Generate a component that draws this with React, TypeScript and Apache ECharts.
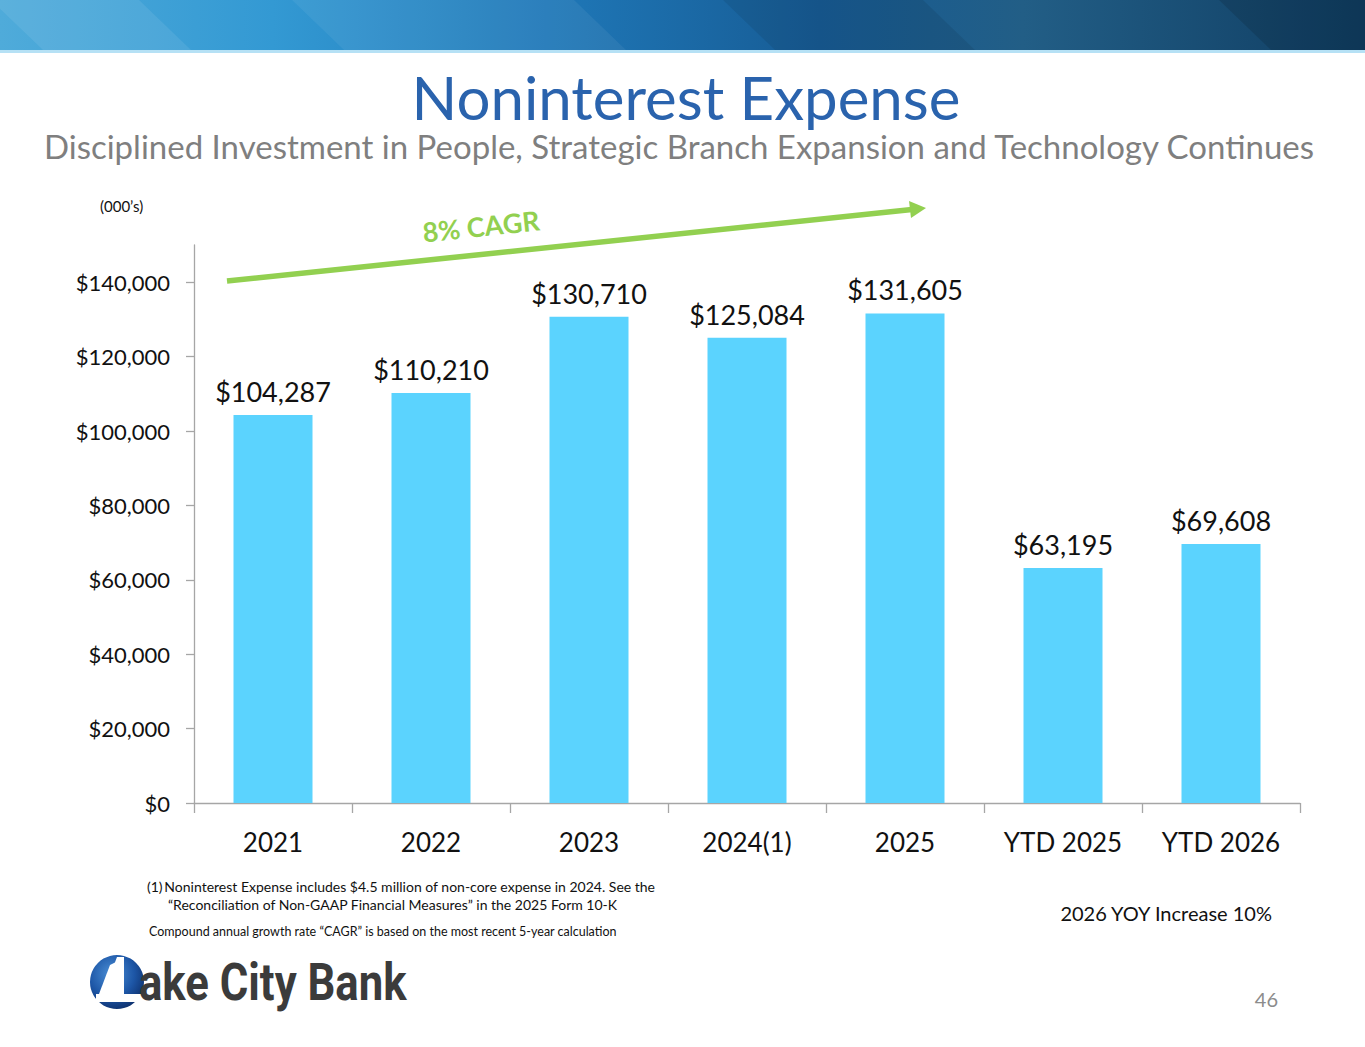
import React, { useEffect, useRef } from "react";
import * as echarts from "echarts";

const categories = ["2021", "2022", "2023", "2024(1)", "2025", "YTD 2025", "YTD 2026"];
const expense = [104287, 110210, 130710, 125084, 131605, 63195, 69608];
const yTicks = [0, 20000, 40000, 60000, 80000, 100000, 120000, 140000];
const yMax = 150000;

const FONT = "Lato, 'Open Sans', sans-serif";
const money = (v: number) => "$" + Number(v).toLocaleString("en-US");

export default function App() {
  const ref = useRef<HTMLDivElement>(null);
  useEffect(() => {
    document.body.style.margin = "0";
    const chart = echarts.init(ref.current!, null, { renderer: "svg" });

    const stripes: any[] = [];
    const bands = [
      [17, 165, 0.08],
      [318, 600, 0.06],
      [749, 949, -0.08],
      [1245, 1400, -0.12],
    ];
    bands.forEach(([a, b, alpha]) => {
      stripes.push({
        type: "polygon",
        shape: { points: [[a - 26, 0], [b - 26, 0], [b + 26, 50], [a + 26, 50]] },
        style: { fill: alpha > 0 ? `rgba(255,255,255,${alpha})` : `rgba(0,0,0,${-alpha})` },
        silent: true,
      });
    });

    chart.setOption({
      animation: false,
      backgroundColor: "#ffffff",
      grid: { left: 194, right: 65, top: 245, bottom: 244, containLabel: false },
      xAxis: {
        type: "category",
        data: categories,
        axisLine: { lineStyle: { color: "#a6a6a6", width: 1.3 } },
        axisTick: { show: true, length: 10, lineStyle: { color: "#a6a6a6", width: 1.3 } },
        axisLabel: { fontSize: 26, color: "#111111", margin: 26, fontFamily: FONT },
      },
      yAxis: {
        type: "value",
        min: 0,
        max: yMax,
        interval: 20000,
        splitLine: { show: false },
        axisLine: { show: true, lineStyle: { color: "#a6a6a6", width: 1.3 } },
        axisTick: { show: true, length: 8, customValues: yTicks, lineStyle: { color: "#a6a6a6", width: 1.3 } },
        axisLabel: {
          fontSize: 22,
          color: "#111111",
          margin: 24,
          fontFamily: FONT,
          customValues: yTicks,
          formatter: (v: number) => money(v),
        },
      },
      series: [
        {
          type: "bar",
          data: expense,
          barWidth: "50%",
          itemStyle: { color: "#5bd3fe" },
          label: {
            show: true,
            position: "top",
            distance: 10,
            fontSize: 27,
            color: "#111111",
            fontFamily: FONT,
            formatter: (p: any) => money(p.value),
          },
        },
      ],
      graphic: [
        // header banner
        {
          type: "rect",
          shape: { x: 0, y: 0, width: 1365, height: 50 },
          style: {
            fill: new echarts.graphic.LinearGradient(0, 0, 1, 0, [
              { offset: 0, color: "#4fabda" },
              { offset: 0.2, color: "#3399d3" },
              { offset: 0.4, color: "#1f78b8" },
              { offset: 0.6, color: "#175c95" },
              { offset: 0.75, color: "#225e86" },
              { offset: 1, color: "#103e63" },
            ]),
          },
          silent: true,
        },
        ...stripes,
        { type: "rect", shape: { x: 0, y: 50, width: 1365, height: 3 }, style: { fill: "#b6e1f5" }, silent: true },
        // title
        {
          type: "text",
          x: 686,
          y: 97,
          style: {
            text: "Noninterest Expense",
            fill: "#2a63ad",
            font: `60px ${FONT}`,
            lineHeight: 56,
            align: "center",
            verticalAlign: "middle",
          },
        },
        {
          type: "text",
          x: 679,
          y: 146,
          style: {
            text: "Disciplined Investment in People, Strategic Branch Expansion and Technology Continues",
            fill: "#7f7f7f",
            font: `33px ${FONT}`,
            lineHeight: 32,
            align: "center",
            verticalAlign: "middle",
          },
        },
        {
          type: "text",
          x: 100,
          y: 206,
          style: { text: "(000\u2019s)", fill: "#111111", font: `15px ${FONT}`, align: "left", verticalAlign: "middle" },
        },
        // CAGR arrow
        {
          type: "line",
          shape: { x1: 227, y1: 281, x2: 912, y2: 209.5 },
          style: { stroke: "#92d050", lineWidth: 5.5 },
          silent: true,
        },
        {
          type: "polygon",
          shape: { points: [[926, 208], [909, 201], [911, 218]] },
          style: { fill: "#92d050" },
          silent: true,
        },
        {
          type: "text",
          x: 481,
          y: 226,
          rotation: 0.105,
          style: { text: "8% CAGR", fill: "#92d050", font: `bold 27px ${FONT}`, align: "center", verticalAlign: "middle" },
        },
        // footnotes
        {
          type: "text",
          x: 147,
          y: 886,
          style: {
            text: "(1)\u2009Noninterest Expense includes $4.5 million of non-core expense in 2024. See the",
            fill: "#111111",
            font: `14px ${FONT}`,
            align: "left",
            verticalAlign: "middle",
          },
        },
        {
          type: "text",
          x: 168,
          y: 904,
          style: {
            text: "\u201cReconciliation of Non-GAAP Financial Measures\u201d in the 2025 Form 10-K",
            fill: "#111111",
            font: `14px ${FONT}`,
            align: "left",
            verticalAlign: "middle",
          },
        },
        {
          type: "text",
          x: 149,
          y: 931,
          style: {
            text: "Compound annual growth rate \u201cCAGR\u201d is based on the most recent 5-year calculation",
            fill: "#111111",
            font: `12.5px ${FONT}`,
            align: "left",
            verticalAlign: "middle",
          },
        },
        {
          type: "text",
          x: 1272,
          y: 913,
          style: { text: "2026 YOY Increase 10%", fill: "#111111", font: `20px ${FONT}`, align: "right", verticalAlign: "middle" },
        },
        {
          type: "text",
          x: 1278,
          y: 999,
          style: { text: "46", fill: "#8c8c8c", font: `20px ${FONT}`, align: "right", verticalAlign: "middle" },
        },
        // logo
        {
          type: "circle",
          shape: { cx: 117, cy: 982, r: 27 },
          style: {
            fill: new echarts.graphic.RadialGradient(0.4, 0.35, 0.7, [
              { offset: 0, color: "#4b8fd6" },
              { offset: 0.6, color: "#1d56a6" },
              { offset: 1, color: "#0d2f6b" },
            ]),
          },
          silent: true,
        },
        {
          type: "polygon",
          shape: { points: [[117, 957], [124, 957], [124, 994], [146, 994], [146, 1002], [96, 1002], [96, 994], [103, 994]] },
          style: { fill: "#ffffff" },
          silent: true,
        },
        {
          type: "polygon",
          shape: { points: [[110, 965], [116, 962], [105, 994], [99, 994]] },
          style: { fill: "#ffffff" },
          silent: true,
        },
        {
          type: "text",
          x: 139,
          y: 982,
          scaleX: 0.84,
          style: {
            text: "ake City Bank",
            fill: "#3b3b3b",
            font: `bold 52px Roboto, 'Liberation Sans', sans-serif`,
            align: "left",
            verticalAlign: "middle",
          },
        },
      ],
    });
    return () => chart.dispose();
  }, []);
  return <div ref={ref} style={{ width: 1365, height: 1047 }} />;
}
